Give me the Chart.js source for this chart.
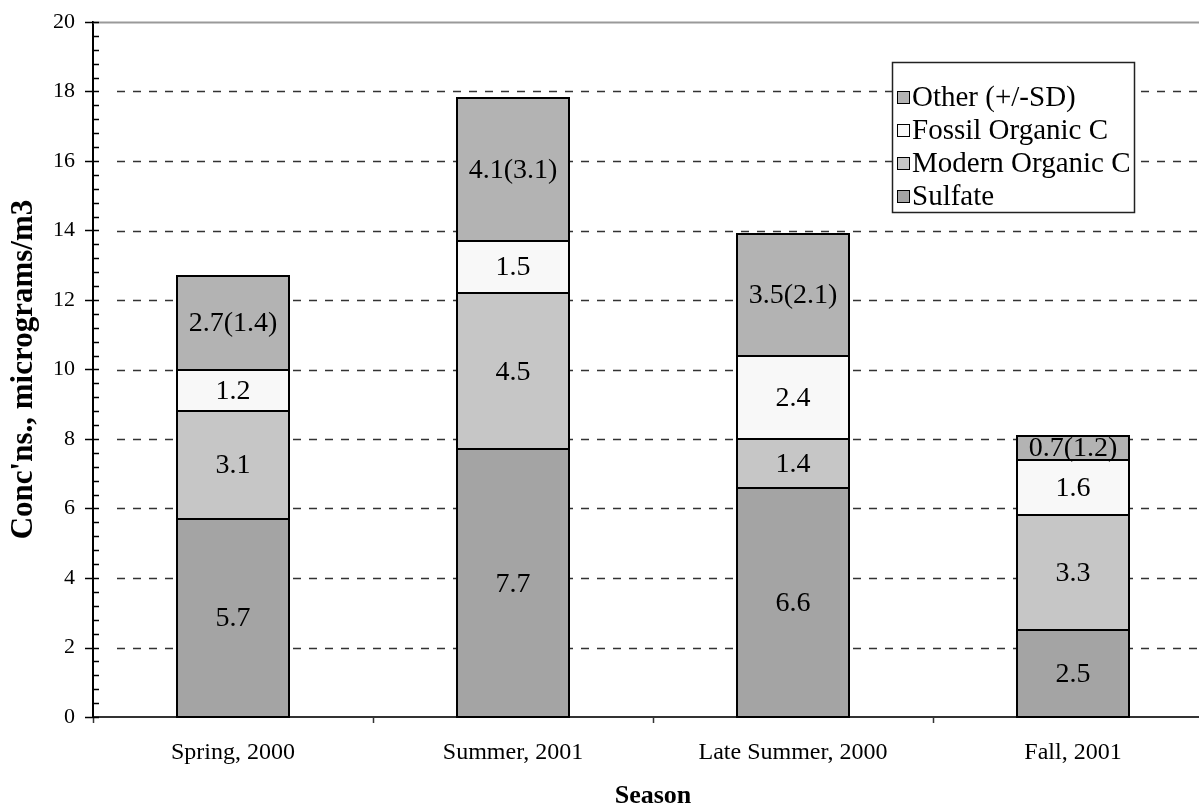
<!DOCTYPE html>
<html>
<head>
<meta charset="utf-8">
<script src="https://cdn.jsdelivr.net/npm/chart.js@4.4.0/dist/chart.umd.min.js"></script>
<style>
  html, body { margin: 0; padding: 0; background: #fff; overflow: hidden; }
  #wrap { width: 1199px; height: 812px; overflow: hidden; position: relative; }
  #box { position: absolute; left: 0; top: 0; width: 1240px; height: 812px; }
</style>
</head>
<body>
<div id="wrap"><div id="box"><canvas id="c" width="1240" height="812"></canvas></div></div>
<script>
// Seasonal aerosol composition, stacked
const seasons  = ['Spring, 2000', 'Summer, 2001', 'Late Summer, 2000', 'Fall, 2001'];
const sulfate  = [5.7, 7.7, 6.6, 2.5];
const modernOC = [3.1, 4.5, 1.4, 3.3];
const fossilOC = [1.2, 1.5, 2.4, 1.6];
const other    = [2.7, 4.1, 3.5, 0.7];
const otherSD  = [1.4, 3.1, 2.1, 1.2];
const yMin = 0, yMax = 20, yStep = 2, yMinorStep = 0.4;

const SERIF = '"Liberation Serif", "Times New Roman", serif';

// dashed horizontal grid, solid top line, and y-axis tick marks
const gridAndTicks = {
  id: 'gridAndTicks',
  beforeDatasetsDraw(chart) {
    const { ctx, chartArea: a, scales: { y } } = chart;
    ctx.save();
    for (let v = yMin + yStep; v <= yMax + 1e-9; v += yStep) {
      const py = Math.round(y.getPixelForValue(v));
      ctx.beginPath();
      if (v >= yMax - 1e-9) {
        ctx.setLineDash([]);
        ctx.strokeStyle = '#9a9a9a';
        ctx.lineWidth = 2;
        ctx.moveTo(a.left, py + 0.5);
      } else {
        ctx.setLineDash([8, 8]);
        ctx.strokeStyle = '#333';
        ctx.lineWidth = 1.5;
        ctx.moveTo(a.left + 24, py + 0.5);
      }
      ctx.lineTo(a.right, py + 0.5);
      ctx.stroke();
    }
    ctx.setLineDash([]);
    ctx.strokeStyle = '#000';
    ctx.lineWidth = 1.5;
    const ax = a.left;
    for (let v = yMin; v <= yMax + 1e-9; v += yMinorStep) {
      const py = Math.round(y.getPixelForValue(v)) + 0.5;
      const major = Math.abs(v / yStep - Math.round(v / yStep)) < 1e-6;
      ctx.beginPath();
      ctx.moveTo(major ? ax - 8 : ax, py);
      ctx.lineTo(ax + 6, py);
      ctx.stroke();
    }
    ctx.restore();
  }
};

// crisp outlines around every segment, then the value labels
const segmentLabels = {
  id: 'segmentLabels',
  afterDatasetsDraw(chart) {
    const { ctx } = chart;
    ctx.save();
    ctx.strokeStyle = '#000';
    ctx.lineWidth = 2;
    chart.data.datasets.forEach((ds, di) => {
      chart.getDatasetMeta(di).data.forEach(bar => {
        const p = bar.getProps(['x', 'y', 'base', 'width'], true);
        const l = Math.round(p.x - p.width / 2), r = Math.round(p.x + p.width / 2);
        const t = Math.round(p.y), b = Math.round(p.base);
        ctx.strokeRect(l, t, r - l, b - t);
      });
    });
    ctx.font = '28px ' + SERIF;
    ctx.fillStyle = '#000';
    ctx.textAlign = 'center';
    ctx.textBaseline = 'middle';
    chart.data.datasets.forEach((ds, di) => {
      const meta = chart.getDatasetMeta(di);
      meta.data.forEach((bar, i) => {
        const v = ds.data[i];
        let txt = v.toFixed(1);
        if (ds.sd) txt += '(' + ds.sd[i].toFixed(1) + ')';
        ctx.fillText(txt, bar.x, (bar.y + bar.base) / 2 + 1);
      });
    });
    ctx.restore();
  }
};

// boxed legend inside the plot, top series first
const boxLegend = {
  id: 'boxLegend',
  afterDraw(chart) {
    const { ctx } = chart;
    const left = 892, top = 62, right = 1134, bottom = 212;
    ctx.save();
    ctx.fillStyle = '#fff';
    ctx.fillRect(left, top, right - left, bottom - top);
    ctx.strokeStyle = '#222';
    ctx.lineWidth = 1.5;
    ctx.strokeRect(left + 0.5, top + 0.5, right - left, bottom - top);
    const items = chart.data.datasets.slice().reverse();
    const rowH = 33;
    ctx.font = '29px ' + SERIF;
    ctx.textBaseline = 'middle';
    ctx.textAlign = 'left';
    items.forEach((ds, i) => {
      const cy = top + 35 + rowH * i;
      ctx.fillStyle = ds.backgroundColor;
      ctx.fillRect(left + 5, cy - 6, 12, 12);
      ctx.strokeStyle = '#000';
      ctx.lineWidth = 1;
      ctx.strokeRect(left + 5.5, cy - 5.5, 12, 12);
      ctx.fillStyle = '#000';
      ctx.fillText(ds.label, left + 20, cy + 1);
    });
    ctx.restore();
  }
};

const mk = (label, data, color, extra) => Object.assign({
  label, data, backgroundColor: color, borderWidth: 0, inflateAmount: 0, stack: 's'
}, extra || {});

new Chart(document.getElementById('c'), {
  type: 'bar',
  data: {
    labels: seasons,
    datasets: [
      mk('Sulfate', sulfate, '#a4a4a4'),
      mk('Modern Organic C', modernOC, '#c6c6c6'),
      mk('Fossil Organic C', fossilOC, '#f8f8f8'),
      mk('Other (+/-SD)', other, '#b3b3b3', { sd: otherSD })
    ]
  },
  options: {
    responsive: false,
    animation: false,
    devicePixelRatio: 1,
    layout: { padding: { top: 22, right: 27, left: 0, bottom: 0 } },
    datasets: { bar: { categoryPercentage: 1.0, barPercentage: 0.4 } },
    plugins: { legend: { display: false }, tooltip: { enabled: false } },
    scales: {
      x: {
        stacked: true,
        grid: { display: true, drawOnChartArea: false, drawTicks: true, tickLength: 6, tickColor: '#333', tickWidth: 1.5 },
        border: { display: true, color: '#333', width: 2 },
        ticks: { color: '#000', font: { family: SERIF, size: 24 }, padding: 15, maxRotation: 0 },
        title: { display: true, text: 'Season', color: '#000', font: { family: SERIF, size: 26, weight: 'bold' }, padding: { top: 0, bottom: 0 } },
        afterFit(s) { s.height = 95; s.paddingLeft = 0; s.paddingRight = 0; }
      },
      y: {
        stacked: true,
        min: yMin, max: yMax,
        grid: { display: false, drawTicks: false },
        border: { display: true, color: '#000', width: 2 },
        ticks: { stepSize: yStep, color: '#000', font: { family: SERIF, size: 22 }, padding: 18 },
        title: { display: true, text: "Conc'ns., micrograms/m3", color: '#000', font: { family: SERIF, size: 31, weight: 'bold' }, padding: { top: 5, bottom: 0 } },
        afterFit(s) { s.width = 93; s.paddingTop = 0; s.paddingBottom = 0; }
      }
    }
  },
  plugins: [gridAndTicks, segmentLabels, boxLegend]
});
</script>
</body>
</html>
